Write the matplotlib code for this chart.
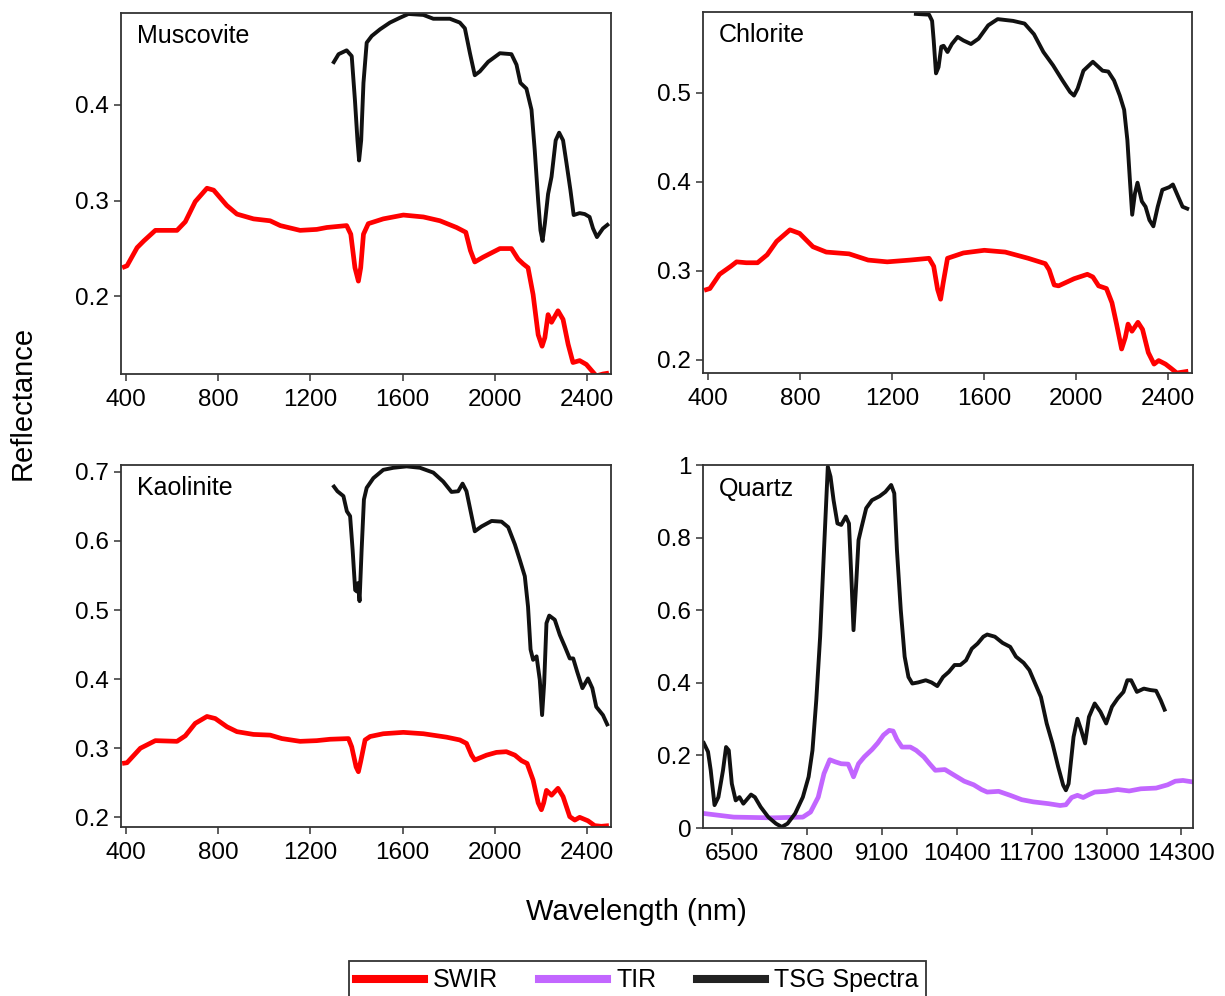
import matplotlib
matplotlib.use("Agg")
import matplotlib.pyplot as plt
from matplotlib.ticker import FuncFormatter

plt.rcParams['font.family'] = ['Liberation Sans', 'DejaVu Sans']

# ---------------- data ----------------
# Muscovite
mus_swir_x = [383, 404, 448, 477, 527, 621, 657, 700, 751, 780, 837, 881, 953, 1025, 1069, 1155, 1227, 1271, 1357,
              1375, 1393, 1408, 1418, 1430, 1451, 1516, 1603, 1690, 1762, 1834, 1874, 1894, 1913, 1949, 2022, 2072,
              2101, 2123, 2144, 2166, 2188, 2205, 2217, 2231, 2246, 2274, 2296, 2318, 2339, 2368, 2397, 2440, 2469, 2495]
mus_swir_y = [0.230, 0.232, 0.251, 0.258, 0.269, 0.269, 0.278, 0.299, 0.313, 0.311, 0.295, 0.286, 0.281, 0.279,
              0.274, 0.269, 0.270, 0.272, 0.274, 0.265, 0.230, 0.216, 0.230, 0.265, 0.276, 0.281, 0.285, 0.283,
              0.279, 0.272, 0.267, 0.248, 0.236, 0.241, 0.250, 0.250, 0.239, 0.234, 0.230, 0.202, 0.160, 0.148,
              0.157, 0.181, 0.173, 0.185, 0.176, 0.150, 0.131, 0.133, 0.129, 0.117, 0.119, 0.120]
mus_tsg_x = [1297, 1322, 1357, 1379, 1393, 1404, 1411, 1420, 1430, 1444, 1466, 1502, 1545, 1588, 1625, 1690, 1733,
             1805, 1848, 1870, 1892, 1913, 1935, 1971, 2022, 2072, 2094, 2111, 2137, 2159, 2173, 2188, 2198, 2207,
             2217, 2231, 2246, 2264, 2279, 2296, 2311, 2328, 2342, 2368, 2390, 2411, 2426, 2443, 2469, 2495]
mus_tsg_y = [0.443, 0.453, 0.457, 0.451, 0.405, 0.363, 0.342, 0.363, 0.423, 0.465, 0.472, 0.479, 0.486, 0.491,
             0.495, 0.494, 0.490, 0.490, 0.486, 0.480, 0.454, 0.431, 0.435, 0.445, 0.454, 0.453, 0.442, 0.423,
             0.417, 0.395, 0.353, 0.300, 0.269, 0.258, 0.276, 0.307, 0.325, 0.363, 0.371, 0.363, 0.339, 0.311,
             0.285, 0.287, 0.286, 0.283, 0.271, 0.262, 0.271, 0.276]

# Chlorite
chl_swir_x = [383, 408, 450, 499, 524, 566, 615, 657, 698, 756, 798, 856, 914, 1013, 1096, 1179, 1278, 1361, 1381,
              1398, 1411, 1422, 1441, 1510, 1601, 1692, 1792, 1866, 1883, 1905, 1924, 1991, 2049, 2073, 2098, 2132,
              2156, 2176, 2198, 2214, 2226, 2243, 2269, 2289, 2314, 2339, 2359, 2389, 2414, 2438, 2488]
chl_swir_y = [0.278, 0.280, 0.296, 0.305, 0.310, 0.309, 0.309, 0.318, 0.333, 0.346, 0.342, 0.327, 0.321, 0.319,
              0.312, 0.310, 0.312, 0.314, 0.305, 0.279, 0.268, 0.286, 0.314, 0.320, 0.323, 0.321, 0.314, 0.308,
              0.301, 0.284, 0.283, 0.291, 0.296, 0.293, 0.283, 0.280, 0.264, 0.240, 0.212, 0.225, 0.240, 0.232,
              0.242, 0.234, 0.208, 0.195, 0.199, 0.195, 0.190, 0.185, 0.187]
chl_tsg_x = [1295, 1361, 1374, 1381, 1391, 1402, 1414, 1424, 1441, 1460, 1485, 1510, 1543, 1576, 1618, 1659, 1726,
             1776, 1817, 1858, 1900, 1941, 1974, 1991, 2007, 2032, 2073, 2115, 2140, 2165, 2190, 2209, 2223, 2234,
             2244, 2256, 2267, 2286, 2302, 2319, 2336, 2355, 2375, 2405, 2421, 2441, 2463, 2491]
chl_tsg_y = [0.589, 0.588, 0.581, 0.559, 0.522, 0.529, 0.552, 0.553, 0.546, 0.555, 0.563, 0.559, 0.555, 0.561,
             0.576, 0.583, 0.581, 0.578, 0.566, 0.546, 0.531, 0.514, 0.501, 0.497, 0.505, 0.525, 0.535, 0.525,
             0.524, 0.514, 0.497, 0.481, 0.447, 0.402, 0.363, 0.387, 0.399, 0.378, 0.372, 0.357, 0.350, 0.372,
             0.391, 0.394, 0.397, 0.385, 0.372, 0.369]

# Kaolinite
kao_swir_x = [383, 404, 462, 527, 621, 657, 700, 751, 787, 838, 881, 953, 1025, 1076, 1155, 1227, 1285, 1365, 1379,
              1398, 1408, 1418, 1437, 1459, 1516, 1603, 1690, 1791, 1848, 1877, 1899, 1913, 1964, 2007, 2050, 2087,
              2116, 2140, 2166, 2188, 2202, 2212, 2224, 2246, 2274, 2296, 2325, 2347, 2368, 2404, 2433, 2462, 2495]
kao_swir_y = [0.278, 0.279, 0.300, 0.311, 0.310, 0.318, 0.336, 0.346, 0.343, 0.331, 0.324, 0.320, 0.319, 0.314,
              0.310, 0.311, 0.313, 0.314, 0.302, 0.273, 0.266, 0.281, 0.312, 0.317, 0.321, 0.323, 0.321, 0.316,
              0.312, 0.307, 0.290, 0.283, 0.290, 0.294, 0.295, 0.290, 0.282, 0.278, 0.254, 0.221, 0.211, 0.221,
              0.239, 0.232, 0.242, 0.230, 0.201, 0.196, 0.200, 0.195, 0.188, 0.187, 0.188]
kao_tsg_x = [1297, 1317, 1343, 1358, 1372, 1383, 1394, 1401, 1406, 1413, 1422, 1432, 1444, 1473, 1516, 1560, 1617,
             1675, 1733, 1776, 1812, 1841, 1860, 1877, 1895, 1913, 1942, 1986, 2029, 2058, 2087, 2108, 2130, 2144,
             2155, 2166, 2181, 2195, 2205, 2214, 2224, 2236, 2260, 2282, 2304, 2325, 2340, 2357, 2380, 2404, 2423,
             2440, 2469, 2491]
kao_tsg_y = [0.681, 0.672, 0.665, 0.643, 0.636, 0.587, 0.529, 0.527, 0.539, 0.513, 0.587, 0.660, 0.677, 0.691,
             0.703, 0.706, 0.708, 0.706, 0.699, 0.686, 0.671, 0.672, 0.683, 0.672, 0.643, 0.614, 0.621, 0.629,
             0.628, 0.620, 0.595, 0.573, 0.549, 0.505, 0.443, 0.428, 0.433, 0.399, 0.348, 0.394, 0.481, 0.492,
             0.486, 0.464, 0.447, 0.430, 0.430, 0.411, 0.387, 0.401, 0.387, 0.360, 0.348, 0.332]

# Quartz
qtz_tsg_x = [6014, 6087, 6134, 6200, 6267, 6347, 6400, 6447, 6500, 6567, 6633, 6700, 6833, 6900, 7000, 7133, 7266,
             7366, 7466, 7599, 7732, 7832, 7899, 7965, 8032, 8099, 8165, 8212, 8265, 8332, 8398, 8478, 8532, 8578,
             8611, 8651, 8698, 8745, 8831, 8931, 9064, 9164, 9264, 9318, 9364, 9431, 9498, 9564, 9631, 9731, 9864,
             9964, 10064, 10164, 10264, 10364, 10464, 10563, 10663, 10763, 10863, 10930, 11063, 11196, 11329,
             11429, 11562, 11662, 11762, 11862, 11962, 12062, 12162, 12248, 12295, 12342, 12428, 12495, 12562,
             12628, 12695, 12795, 12895, 12994, 13094, 13194, 13294, 13361, 13427, 13527, 13647, 13760, 13860,
             13940, 14007]
qtz_tsg_y = [0.234, 0.210, 0.159, 0.063, 0.085, 0.159, 0.223, 0.214, 0.122, 0.076, 0.085, 0.067, 0.092, 0.085,
             0.058, 0.030, 0.012, 0.003, 0.012, 0.040, 0.085, 0.141, 0.214, 0.352, 0.527, 0.766, 0.995, 0.968,
             0.903, 0.839, 0.835, 0.858, 0.839, 0.674, 0.545, 0.655, 0.793, 0.825, 0.881, 0.903, 0.914, 0.926,
             0.945, 0.922, 0.766, 0.600, 0.472, 0.416, 0.398, 0.401, 0.407, 0.401, 0.391, 0.416, 0.430, 0.449,
             0.449, 0.462, 0.494, 0.508, 0.527, 0.533, 0.527, 0.510, 0.499, 0.472, 0.455, 0.435, 0.398, 0.361,
             0.288, 0.233, 0.168, 0.118, 0.104, 0.122, 0.251, 0.301, 0.269, 0.233, 0.306, 0.343, 0.320, 0.288,
             0.334, 0.357, 0.375, 0.407, 0.407, 0.375, 0.384, 0.380, 0.378, 0.352, 0.326]
qtz_tir_x = [6014, 6533, 7199, 7732, 7866, 7999, 8099, 8199, 8299, 8398, 8518, 8565, 8611, 8698, 8798, 8931, 9031,
             9131, 9231, 9298, 9364, 9451, 9597, 9697, 9831, 9930, 10030, 10197, 10363, 10530, 10696, 10830,
             10930, 11129, 11329, 11529, 11729, 11995, 12195, 12295, 12395, 12495, 12595, 12695, 12795, 12994,
             13194, 13394, 13594, 13860, 14060, 14193, 14326, 14493]
qtz_tir_y = [0.040, 0.030, 0.028, 0.030, 0.044, 0.085, 0.150, 0.188, 0.182, 0.177, 0.176, 0.159, 0.141, 0.177,
             0.196, 0.216, 0.234, 0.256, 0.269, 0.267, 0.244, 0.223, 0.223, 0.214, 0.196, 0.177, 0.159, 0.161,
             0.145, 0.129, 0.119, 0.106, 0.099, 0.101, 0.090, 0.078, 0.072, 0.067, 0.062, 0.064, 0.084, 0.090,
             0.084, 0.092, 0.099, 0.101, 0.106, 0.102, 0.108, 0.110, 0.119, 0.129, 0.131, 0.127]

swir_ticks = [400, 800, 1200, 1600, 2000, 2400]
tir_ticks = [6500, 7800, 9100, 10400, 11700, 13000, 14300]

RED = '#ff0000'
PURPLE = '#c266ff'
BLACK = '#111111'
SPINE = '#333333'

W, H = 1225, 996
fig = plt.figure(figsize=(W / 100, H / 100), dpi=100)


def make_ax(l, t, r, b):
    ax = fig.add_axes([l / W, 1 - b / H, (r - l) / W, (b - t) / H])
    for s in ax.spines.values():
        s.set_color(SPINE)
        s.set_linewidth(1.3)
    ax.tick_params(direction='out', length=5, width=1.1, color=SPINE, labelsize=17.5,
                   top=False, right=False)
    ax.tick_params(axis='x', pad=5.5)
    ax.tick_params(axis='y', pad=3.5)
    return ax


fmt = FuncFormatter(lambda v, p: '%g' % round(v, 3))

panels = [
    ('Muscovite', (121, 13, 611, 374), mus_swir_x, mus_swir_y, mus_tsg_x, mus_tsg_y, (0.119, 0.496), [0.2, 0.3, 0.4]),
    ('Chlorite', (703, 12, 1192, 373), chl_swir_x, chl_swir_y, chl_tsg_x, chl_tsg_y, (0.185, 0.591), [0.2, 0.3, 0.4, 0.5]),
    ('Kaolinite', (121, 465, 611, 827), kao_swir_x, kao_swir_y, kao_tsg_x, kao_tsg_y, (0.186, 0.71),
     [0.2, 0.3, 0.4, 0.5, 0.6, 0.7]),
]

for name, box, sx, sy, tx, ty, ylim, yt in panels:
    ax = make_ax(*box)
    ax.plot(sx, sy, color=RED, lw=3.4, solid_capstyle='butt')
    ax.plot(tx, ty, color=BLACK, lw=2.8, solid_capstyle='butt')
    ax.set_xlim(378, 2504)
    ax.set_ylim(*ylim)
    ax.set_xticks(swir_ticks)
    ax.set_yticks(yt)
    ax.yaxis.set_major_formatter(fmt)
    ax.text(0.033, 0.936, name, transform=ax.transAxes, fontsize=18, va='center', ha='left')

ax = make_ax(703, 465, 1193, 828)
ax.plot(qtz_tir_x, qtz_tir_y, color=PURPLE, lw=3.4)
ax.plot(qtz_tsg_x, qtz_tsg_y, color=BLACK, lw=2.8)
ax.set_xlim(6000, 14500)
ax.set_ylim(0, 1)
ax.set_xticks(tir_ticks)
ax.set_yticks([0, 0.2, 0.4, 0.6, 0.8, 1.0])
ax.yaxis.set_major_formatter(fmt)
ax.text(0.033, 0.934, 'Quartz', transform=ax.transAxes, fontsize=18, va='center', ha='left')

fig.text(22.5 / W, 1 - 403 / H, 'Reflectance', rotation=90, fontsize=21, ha='center', va='center')
fig.text(636 / W, 1 - 912 / H, 'Wavelength (nm)', fontsize=21, ha='center', va='center')

handles = [plt.Line2D([], [], color=RED, lw=5.8),
           plt.Line2D([], [], color=PURPLE, lw=5.8),
           plt.Line2D([], [], color='#222222', lw=5.8)]
leg = fig.legend(handles, ['SWIR', 'TIR', 'TSG Spectra'], loc='lower center', bbox_to_anchor=(637.5 / W, -0.004),
                 ncol=3, fontsize=18, frameon=True, fancybox=False, handlelength=2.72, handletextpad=0.36,
                 columnspacing=1.64, borderaxespad=0.0, borderpad=0.3)
leg.get_frame().set_edgecolor('black')
leg.get_frame().set_linewidth(1.3)

fig.savefig('out.png', dpi=100)
